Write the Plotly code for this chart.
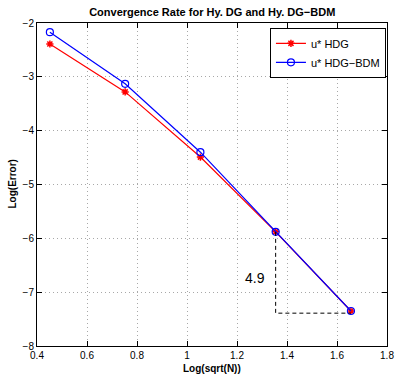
import plotly.graph_objects as go

x_vals = [0.4515, 0.7526, 1.0536, 1.3546, 1.6557]
err_hdg = [-2.39, -3.28, -4.49, -5.88, -7.35]
err_bdm = [-2.17, -3.13, -4.40, -5.88, -7.35]
slope_x = [1.3546, 1.3546, 1.6557]
slope_y = [-5.88, -7.39, -7.39]
slope_label = "4.9"

font_family = "Liberation Sans, Arial, Helvetica, sans-serif"

fig = go.Figure()
fig.add_trace(go.Scatter(
    x=x_vals, y=err_hdg, mode="lines+markers", name="u* HDG",
    line=dict(color="red", width=1.2),
    marker=dict(symbol="asterisk-open", size=6, color="red", line=dict(color="red", width=1.5)),
))
fig.add_trace(go.Scatter(
    x=x_vals, y=err_bdm, mode="lines+markers", name="u* HDG\u2212BDM",
    line=dict(color="blue", width=1.2),
    marker=dict(symbol="circle-open", size=7, color="blue", line=dict(color="blue", width=1.2)),
))
fig.add_trace(go.Scatter(
    x=slope_x, y=slope_y, mode="lines", showlegend=False,
    line=dict(color="black", width=1, dash="4px,3px"),
))

fig.add_annotation(x=1.27, y=-6.74, text=slope_label, showarrow=False,
                   font=dict(size=14, color="black", family=font_family))
fig.add_annotation(xref="paper", yref="paper", x=0.5, y=0, yshift=-22, yanchor="middle",
                   text="<b>Log(sqrt(N))</b>", showarrow=False,
                   font=dict(size=10, color="black", family=font_family))
fig.add_annotation(xref="paper", yref="paper", x=0, y=0.5, xshift=-25, xanchor="center",
                   text="<b>Log(Error)</b>", textangle=-90, showarrow=False,
                   font=dict(size=10, color="black", family=font_family))

axis_common = dict(
    showline=True, linecolor="black", linewidth=1, mirror="ticks",
    ticks="inside", ticklen=5, tickcolor="black",
    showgrid=True, gridcolor="#a8a8a8", griddash="1px,3px", gridwidth=1,
    zeroline=False, tickfont=dict(size=10, color="black", family=font_family),
    automargin=False,
)

fig.update_layout(
    width=396, height=374,
    margin=dict(l=37, r=9, t=23, b=28),
    paper_bgcolor="white", plot_bgcolor="white",
    font=dict(family=font_family, color="black"),
    title=dict(text="<b>Convergence Rate for Hy. DG and Hy. DG\u2212BDM</b>",
               x=0.536, xanchor="center", y=0.968, yanchor="middle",
               font=dict(size=11, color="black", family=font_family)),
    xaxis=dict(range=[0.4, 1.8], tickvals=[0.4, 0.6, 0.8, 1.0, 1.2, 1.4, 1.6, 1.8],
               ticktext=["0.4", "0.6", "0.8", "1", "1.2", "1.4", "1.6", "1.8"],
               ticklabelstandoff=0,
               **axis_common),
    yaxis=dict(range=[-8, -2], tickvals=[-8, -7, -6, -5, -4, -3, -2],
               ticktext=["\u22128", "\u22127", "\u22126", "\u22125", "\u22124", "\u22123", "\u22122"],
               **axis_common),
    legend=dict(x=0.997, y=0.985, xanchor="right", yanchor="top",
                bordercolor="black", borderwidth=1, bgcolor="white",
                font=dict(size=11, color="black", family=font_family),
                tracegroupgap=0, itemsizing="trace"),
    showlegend=True,
)

fig.write_html("out.html")
